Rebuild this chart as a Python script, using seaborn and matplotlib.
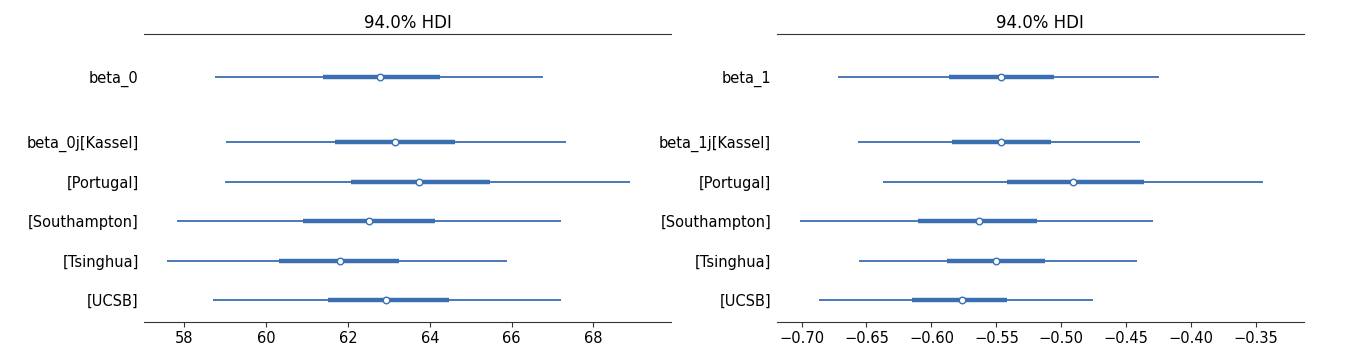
"""Forest plot of posterior HDIs for beta_0 / beta_1 and per-group effects"""
import matplotlib
matplotlib.use('Agg')
import matplotlib.pyplot as plt
import numpy as np
import pandas as pd
import seaborn as sns

labels_0 = ['beta_0', 'beta_0j[Kassel]', '[Portugal]', '[Southampton]', '[Tsinghua]', '[UCSB]']
labels_1 = ['beta_1', 'beta_1j[Kassel]', '[Portugal]', '[Southampton]', '[Tsinghua]', '[UCSB]']

# 94% HDI (low, high), 50% interval (low, high), median
b0_hdi_lo = [58.74, 59.02, 58.99, 57.81, 57.57, 58.71]
b0_hdi_hi = [66.77, 67.33, 68.89, 67.20, 65.88, 67.20]
b0_iqr_lo = [61.38, 61.69, 62.07, 60.91, 60.32, 61.50]
b0_iqr_hi = [64.26, 64.62, 65.48, 64.12, 63.24, 64.46]
b0_median = [62.79, 63.15, 63.74, 62.52, 61.81, 62.93]

b1_hdi_lo = [-0.6718, -0.6567, -0.6369, -0.7015, -0.6559, -0.6867]
b1_hdi_hi = [-0.4246, -0.4398, -0.3449, -0.4298, -0.4419, -0.4760]
b1_iqr_lo = [-0.5868, -0.5845, -0.5422, -0.6107, -0.5878, -0.6151]
b1_iqr_hi = [-0.5055, -0.5083, -0.4365, -0.5186, -0.5127, -0.5420]
b1_median = [-0.5463, -0.5466, -0.4914, -0.5632, -0.5504, -0.5766]

COLOR = '#3a70b2'
FONT = 'DejaVu Sans'


def row_positions(n, gap=0.65):
    """Group rows at 0..n-2 (top to bottom), hyper-parameter row a bit above them"""
    y = np.arange(n - 1)[::-1].astype(float)
    return np.concatenate([[n - 1 + gap], y])


def forest(ax, labels, lo, hi, qlo, qhi, med, xlim, xticks, fmt):
    df = pd.DataFrame({'label': labels, 'lo': lo, 'hi': hi, 'qlo': qlo, 'qhi': qhi, 'med': med})
    df['y'] = row_positions(len(df))

    ax.hlines(df['y'], df['lo'], df['hi'], color=COLOR, lw=1.3)
    ax.hlines(df['y'], df['qlo'], df['qhi'], color=COLOR, lw=3.2)
    sns.scatterplot(data=df, x='med', y='y', ax=ax, color='white', edgecolor=COLOR,
                    s=22, linewidth=1, zorder=3, legend=False)

    ax.set_yticks(df['y'])
    ax.set_yticklabels(df['label'], fontsize=10.5, family=FONT)
    ax.tick_params(axis='y', left=False, length=0, pad=4)
    ax.set_xticks(xticks)
    ax.set_xticklabels([fmt.format(t).replace('-', '\u2212') for t in xticks],
                       fontsize=10.5, family=FONT)
    ax.tick_params(axis='x', bottom=True, length=3.5, width=0.8, color='#333333', pad=3)
    ax.set_xlim(*xlim)
    ax.set_ylim(-0.56, 6.73)
    ax.set_xlabel('')
    ax.set_ylabel('')
    ax.set_title('94.0% HDI', fontsize=12, family=FONT, pad=4.5)
    for side in ['left', 'right']:
        ax.spines[side].set_visible(False)
    for side in ['top', 'bottom']:
        ax.spines[side].set_visible(True)
        ax.spines[side].set_color('#333333')
        ax.spines[side].set_linewidth(0.8)
    ax.grid(False)


sns.set_theme(style='white')
plt.rcParams['font.family'] = [FONT]
plt.rcParams['text.color'] = 'black'
plt.rcParams['xtick.color'] = 'black'
plt.rcParams['ytick.color'] = 'black'
plt.rcParams['axes.labelcolor'] = 'black'

fig, axes = plt.subplots(1, 2, figsize=(13.48, 3.62), dpi=100)
forest(axes[0], labels_0, b0_hdi_lo, b0_hdi_hi, b0_iqr_lo, b0_iqr_hi, b0_median,
       (57.02, 69.9), [58, 60, 62, 64, 66, 68], '{:.0f}')
forest(axes[1], labels_1, b1_hdi_lo, b1_hdi_hi, b1_iqr_lo, b1_iqr_hi, b1_median,
       (-0.7192, -0.3136), [-0.70, -0.65, -0.60, -0.55, -0.50, -0.45, -0.40, -0.35], '{:.2f}')

fig.subplots_adjust(left=0.107, right=0.967, top=0.905, bottom=0.11, wspace=0.2)
fig.savefig('out.png', dpi=100)
